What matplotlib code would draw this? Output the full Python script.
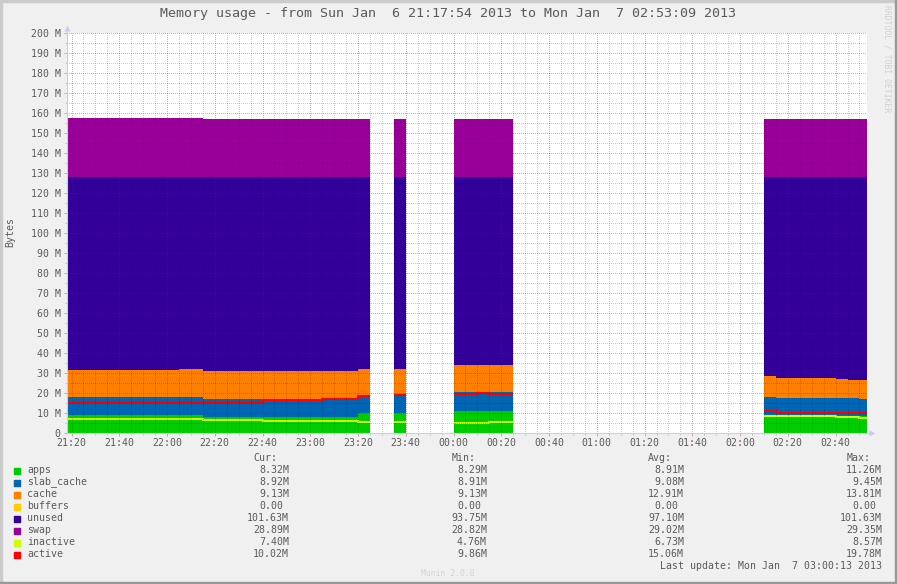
import matplotlib
matplotlib.use('Agg')
import matplotlib.pyplot as plt
import matplotlib.dates as mdates
from matplotlib.patches import Rectangle
from matplotlib.ticker import MultipleLocator, FixedLocator, FuncFormatter
from datetime import datetime
import numpy as np

# intervals (munin 5 min steps), times after 12:00 are Jan 6, else Jan 7
starts = ['21:15', '22:05', '22:15', '22:40', '23:05', '23:20', '23:35',
          '00:00', '00:10', '00:15', '02:10', '02:15', '02:40', '02:45', '02:50']
ends = ['22:05', '22:15', '22:40', '23:05', '23:20', '23:25', '23:40',
        '00:10', '00:15', '00:25', '02:15', '02:40', '02:45', '02:50', '02:55']

apps = [9.0, 9.0, 8.0, 7.8, 7.8, 9.8, 9.8, 11.0, 11.0, 11.0, 8.7, 8.4, 8.4, 8.4, 8.32]
slab_cache = [9.2, 9.2, 9.0, 9.2, 9.2, 8.9, 8.9, 9.3, 9.3, 9.3, 9.3, 8.9, 8.9, 8.9, 8.92]
cache = [13.3, 13.8, 13.8, 13.8, 13.8, 13.3, 13.3, 13.8, 13.8, 13.8, 10.7, 10.4, 9.8, 9.2, 9.13]
buffers = [0, 0, 0, 0, 0, 0, 0, 0, 0, 0, 0, 0, 0, 0, 0]
unused = [96.5, 96.0, 97.2, 97.2, 97.2, 96.0, 96.0, 93.9, 93.9, 93.9, 99.3, 100.3, 100.9, 101.5, 101.63]
swap = [29.35, 29.35, 29.0, 29.0, 29.0, 29.0, 29.0, 29.0, 29.0, 29.0, 29.0, 29.0, 29.0, 28.9, 28.89]
inactive = [7.0, 7.0, 6.5, 5.8, 5.8, 5.3, 5.3, 5.1, 5.1, 5.6, 8.5, 8.5, 7.8, 7.8, 7.4]
active = [15.5, 15.5, 15.5, 16.3, 16.8, 18.3, 18.8, 19.6, 20.1, 19.3, 11.2, 10.0, 10.0, 10.0, 10.02]

names = ['apps', 'slab_cache', 'cache', 'buffers', 'unused', 'swap', 'inactive', 'active']
colors = ['#00CC00', '#0066B3', '#FF8000', '#FFCC00', '#330099', '#990099', '#CCFF00', '#FF0000']
cur_txt = ['8.32M', '8.92M', '9.13M', '0.00 ', '101.63M', '28.89M', '7.40M', '10.02M']
min_txt = ['8.29M', '8.91M', '9.13M', '0.00 ', '93.75M', '28.82M', '4.76M', '9.86M']
avg_txt = ['8.91M', '9.08M', '12.91M', '0.00 ', '97.10M', '29.02M', '6.73M', '15.06M']
max_txt = ['11.26M', '9.45M', '13.81M', '0.00 ', '101.63M', '29.35M', '8.57M', '19.78M']

title = 'Memory usage - from Sun Jan  6 21:17:54 2013 to Mon Jan  7 02:53:09 2013'
last_update = 'Last update: Mon Jan  7 03:00:13 2013'


def to_dt(s):
    parts = [int(p) for p in s.split(':')]
    while len(parts) < 3:
        parts.append(0)
    day = 6 if parts[0] >= 12 else 7
    return datetime(2013, 1, day, parts[0], parts[1], parts[2])


W, H = 897, 584
FONT = 'DejaVu Sans Mono'
TXT = '#5a5a5a'
plt.rcParams['font.family'] = FONT


def fx(x):
    return x / W


def fy(y):
    return 1 - y / H


fig = plt.figure(figsize=(W / 100, H / 100), dpi=100, facecolor='#F0F0F0')

# 3d-ish frame
fig.patches.append(Rectangle((0, fy(2)), 1, 2 / H, transform=fig.transFigure, color='#CBCBCB', zorder=0))
fig.patches.append(Rectangle((0, 0), 2 / W, 1, transform=fig.transFigure, color='#CBCBCB', zorder=0))
fig.patches.append(Rectangle((fx(895), 0), 2 / W, 1, transform=fig.transFigure, color='#999999', zorder=0))
fig.patches.append(Rectangle((0, 0), 1, 2 / H, transform=fig.transFigure, color='#999999', zorder=0))

ax = fig.add_axes([fx(66.5), fy(433), (867 - 66.5) / W, 400 / H])
ax.set_facecolor('white')

t0 = np.array([mdates.date2num(to_dt(s)) for s in starts])
t1 = np.array([mdates.date2num(to_dt(s)) for s in ends])
widths = t1 - t0

stack = [apps, slab_cache, cache, buffers, unused, swap]
bottom = np.zeros(len(starts))
for vals, col in zip(stack, colors[:6]):
    vals = np.array(vals, dtype=float)
    ax.bar(t0, vals, width=widths, bottom=bottom, align='edge', color=col,
           linewidth=0, zorder=1)
    bottom = bottom + vals

# step lines, split where intervals are not contiguous
groups = []
cur = [0]
for i in range(1, len(starts)):
    if abs(t0[i] - t1[i - 1]) < 1e-9:
        cur.append(i)
    else:
        groups.append(cur)
        cur = [i]
groups.append(cur)

for vals, col in [(inactive, colors[6]), (active, colors[7])]:
    for g in groups:
        xs = list(t0[g]) + [t1[g[-1]]]
        ys = [vals[i] for i in g] + [vals[g[-1]]]
        ax.step(xs, ys, where='post', color=col, linewidth=1.5, zorder=2,
                solid_capstyle='butt', solid_joinstyle='miter')

ax.set_xlim(to_dt('21:17:54'), to_dt('02:53:09'))
ax.set_ylim(0, 200)

# minor positions leave out the major ones so the red grid is not overdrawn
ax.xaxis.set_major_locator(mdates.MinuteLocator(byminute=[0, 20, 40]))
ax.xaxis.set_minor_locator(mdates.MinuteLocator(byminute=[m for m in range(0, 60, 5) if m % 20]))
ax.xaxis.set_major_formatter(mdates.DateFormatter('%H:%M'))
ax.yaxis.set_major_locator(MultipleLocator(10))
ax.yaxis.set_minor_locator(FixedLocator(np.arange(5, 200, 10)))
ax.yaxis.set_major_formatter(FuncFormatter(lambda v, p: '0' if v == 0 else '%d M' % v))

# dotted grid on top of the areas, offset so the dots land on whole pixels
ax.set_axisbelow(False)
ax.grid(which='minor', color='black', alpha=0.2, linestyle=(0.5, (1, 1)), linewidth=0.72)
ax.grid(which='major', color='#C00000', alpha=0.35, linestyle=(0.5, (1, 1)), linewidth=0.72)

ax.tick_params(which='major', length=2, width=0.72, color='#E0A0A0', labelsize=7.1,
               labelcolor=TXT, pad=2.2)
ax.tick_params(which='minor', length=1.5, width=0.72, color='#C8C8C8')
ax.tick_params(axis='x', which='major', pad=1.5)

for s in ['top', 'right']:
    ax.spines[s].set_visible(False)
for s in ['left', 'bottom']:
    ax.spines[s].set_color('#C8CCF0')
    ax.spines[s].set_linewidth(0.8)
    ax.spines[s].set_zorder(3)

# axis arrows
ax.plot([0, 0], [1, 1.012], transform=ax.transAxes, color='#C8CCF0', lw=0.8, clip_on=False)
ax.plot([0], [1.012], transform=ax.transAxes, marker='^', ms=4, color='#C8CCF0', clip_on=False, mec='none')
ax.plot([1, 1.006], [0, 0], transform=ax.transAxes, color='#C8CCF0', lw=0.8, clip_on=False)
ax.plot([1.006], [0], transform=ax.transAxes, marker='>', ms=4, color='#C8CCF0', clip_on=False, mec='none')

fig.text(fx(448), fy(14), title, ha='center', va='center', fontsize=9.6, color=TXT)
fig.text(fx(10), fy(232), 'Bytes', ha='center', va='center', rotation=90, fontsize=7.1, color=TXT)
fig.text(fx(887), fy(5), 'RRDTOOL / TOBI OETIKER', ha='center', va='top', rotation=270,
         fontsize=5.8, color='#D0D0D0')
fig.text(fx(448), fy(574), 'Munin 2.0.8', ha='center', va='center', fontsize=5.8, color='#D4D4D4')

# legend block
cw = 5.93
cols_x = [289, 487, 684, 882]
heads = ['Cur:', 'Min:', 'Avg:', 'Max:']
for hx, h in zip(cols_x, heads):
    fig.text(fx(hx - 2 * cw), fy(458), h, ha='right', va='center', fontsize=7.1, color=TXT)

for i, name in enumerate(names):
    y = 470 + 12 * i
    fig.patches.append(Rectangle((fx(14), fy(y + 3.5)), 6 / W, 6 / H, transform=fig.transFigure,
                                 color=colors[i], zorder=2))
    fig.text(fx(27), fy(y), name, ha='left', va='center', fontsize=7.1, color=TXT)
    for cx, col in zip(cols_x, [cur_txt, min_txt, avg_txt, max_txt]):
        s = col[i]
        shift = (len(s) - len(s.rstrip())) * cw
        fig.text(fx(cx - shift), fy(y), s.rstrip(), ha='right', va='center', fontsize=7.1, color=TXT)

fig.text(fx(882), fy(566), last_update, ha='right', va='center', fontsize=7.1, color=TXT)

fig.savefig('out.png', dpi=100, facecolor=fig.get_facecolor())
